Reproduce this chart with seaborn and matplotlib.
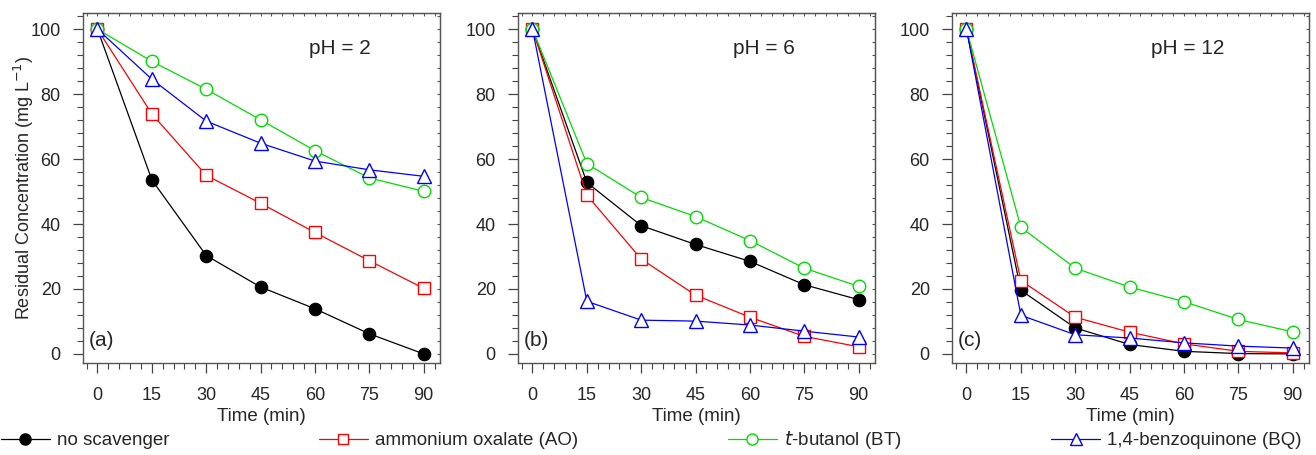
import numpy as np
import pandas as pd
import matplotlib
matplotlib.use("Agg")
import matplotlib.pyplot as plt
import seaborn as sns
from matplotlib.ticker import MultipleLocator
from matplotlib.lines import Line2D

sns.set_style("white")
plt.rcParams['font.family'] = ['Liberation Sans', 'DejaVu Sans']

time = [0, 15, 30, 45, 60, 75, 90]
panels = ["(a)", "(b)", "(c)"]
ph_labels = ["pH = 2", "pH = 6", "pH = 12"]
series = ["no scavenger", "ammonium oxalate (AO)", "$t$-butanol (BT)", "1,4-benzoquinone (BQ)"]

# pH 2
a_none = [100, 53.6, 30.3, 20.6, 13.9, 6.2, 0.0]
a_ao = [100, 73.9, 55.0, 46.4, 37.4, 28.7, 20.2]
a_bt = [100, 90.1, 81.5, 72.1, 62.6, 54.2, 50.1]
a_bq = [100, 84.6, 71.7, 64.9, 59.4, 56.7, 54.7]
# pH 6
b_none = [100, 52.8, 39.5, 33.7, 28.5, 21.3, 16.7]
b_ao = [100, 48.9, 29.2, 18.1, 11.3, 5.4, 2.2]
b_bt = [100, 58.6, 48.2, 42.3, 34.9, 26.4, 20.8]
b_bq = [100, 16.2, 10.4, 10.1, 8.9, 7.0, 5.2]
# pH 12
c_none = [100, 19.6, 8.0, 2.9, 0.8, 0.1, 0.0]
c_ao = [100, 22.6, 11.3, 6.7, 3.1, 0.8, 0.3]
c_bt = [100, 39.0, 26.4, 20.6, 16.1, 10.6, 6.8]
c_bq = [100, 11.9, 5.9, 4.9, 3.4, 2.4, 1.8]

data = [[a_none, a_ao, a_bt, a_bq], [b_none, b_ao, b_bt, b_bq], [c_none, c_ao, c_bt, c_bq]]

colors = ["black", "#ff0000", "#00dd00", "#0000ff"]
markers = ["o", "s", "o", "^"]
mfcs = ["black", "white", "white", "white"]
msizes = [9, 8, 9, 10]

rows = []
for p, pdata in enumerate(data):
    for s, vals in enumerate(pdata):
        for t, v in zip(time, vals):
            rows.append({"panel": panels[p], "series": series[s], "time": t, "conc": v})
df = pd.DataFrame(rows)

fig = plt.figure(figsize=(13.16, 4.55), dpi=100)
lefts = [83 / 1316, 518 / 1316, 952 / 1316]
w = 357 / 1316
bottom = 1 - 363 / 455
h = 350 / 455
ph_x = [0.72, 0.69, 0.66]

for p in range(3):
    ax = fig.add_axes([lefts[p], bottom, w, h])
    sub = df[df.panel == panels[p]]
    for s in range(4):
        d = sub[sub.series == series[s]]
        sns.lineplot(data=d, x="time", y="conc", ax=ax, color=colors[s], lw=0.9,
                     marker=markers[s], markersize=msizes[s], markerfacecolor=mfcs[s],
                     markeredgecolor=colors[s], markeredgewidth=1.0 if s else 0.8,
                     zorder=3 + s, legend=False)
    ax.set_xlim(-4, 94.5)
    ax.set_ylim(-2.8, 105)
    ax.set_xticks(time)
    ax.set_yticks([0, 20, 40, 60, 80, 100])
    ax.xaxis.set_minor_locator(MultipleLocator(3))
    ax.yaxis.set_minor_locator(MultipleLocator(4))
    ax.tick_params(axis="both", which="major", direction="out", length=7, width=0.9,
                   color="#444444", labelsize=13)
    ax.tick_params(axis="both", which="minor", direction="out", length=4, width=0.8, color="#444444")
    ax.tick_params(axis="x", which="both", bottom=True, top=False, pad=10)
    ax.tick_params(axis="y", which="both", left=True, right=False, pad=9)
    for sp in ax.spines.values():
        sp.set_color("#555555")
        sp.set_linewidth(1.0)
    # short inward ticks on top and right
    top = ax.secondary_xaxis("top")
    top.set_xticks(time)
    top.xaxis.set_minor_locator(MultipleLocator(3))
    top.tick_params(axis="x", which="both", direction="in", length=2.5, width=0.8,
                    color="#555555", labeltop=False)
    top.spines["top"].set_color("#555555")
    right = ax.secondary_yaxis("right")
    right.set_yticks([0, 20, 40, 60, 80, 100])
    right.yaxis.set_minor_locator(MultipleLocator(4))
    right.tick_params(axis="y", which="both", direction="in", length=2.5, width=0.8,
                      color="#555555", labelright=False)
    right.spines["right"].set_color("#555555")
    ax.set_xlabel("Time (min)", fontsize=13.5, labelpad=3)
    if p == 0:
        ax.set_ylabel("Residual Concentration (mg L$^{-1}$)", fontsize=13, labelpad=-4)
    else:
        ax.set_ylabel("")
    ax.text(ph_x[p], 0.90, ph_labels[p], transform=ax.transAxes, ha="center", va="center",
            fontsize=15)
    ax.text(0.015, 0.065, panels[p], transform=ax.transAxes, ha="left", va="center",
            fontsize=15)
    ax.grid(False)

handles = [Line2D([0], [0], color=colors[s], lw=0.9, marker=markers[s],
                  markersize=msizes[s] - 1, markerfacecolor=mfcs[s],
                  markeredgecolor=colors[s]) for s in range(4)]
fig.legend(handles, series, loc="lower left", ncol=4, mode="expand",
           bbox_to_anchor=(-0.005, -0.008, 1.0, 0.06), frameon=False, fontsize=13.5,
           handlelength=2.6, handletextpad=0.4, borderaxespad=0.0)

fig.savefig("out.png", dpi=100)
